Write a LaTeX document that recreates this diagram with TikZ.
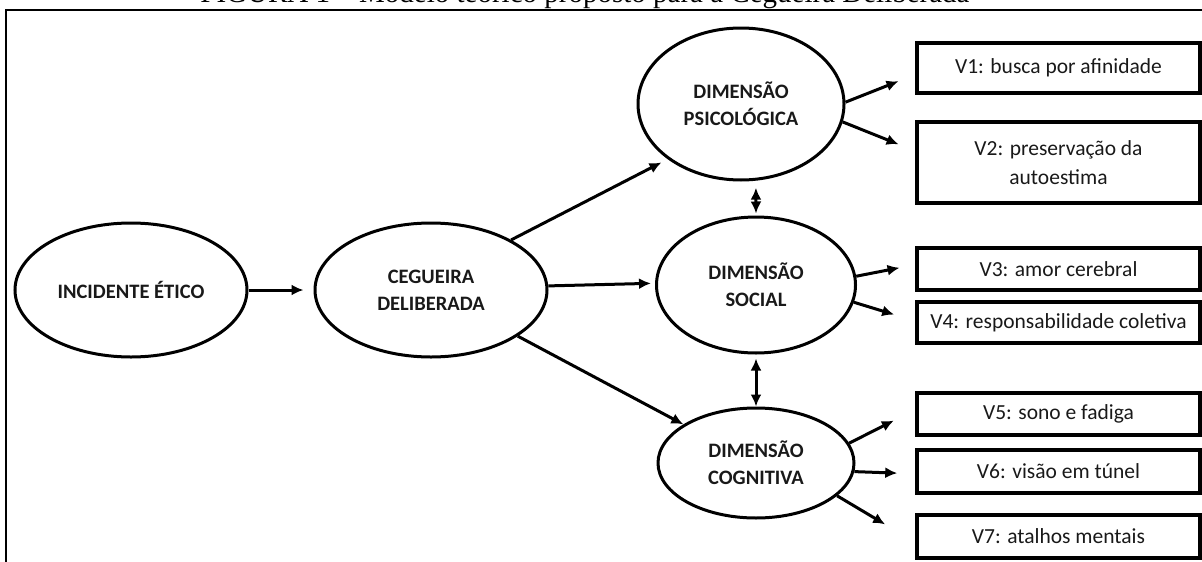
\documentclass[tikz,border=0pt]{standalone}
\usepackage{fontspec}
\setmainfont{Carlito}
\newfontfamily\titlefont{Liberation Serif}
\usetikzlibrary{arrows.meta,shapes.geometric,calc}
\begin{document}
\begin{tikzpicture}[x=1pt,y=-1pt,
  ell/.style={ellipse,draw,line width=3pt,inner sep=0pt,font=\fontsize{20.5}{27}\selectfont\bfseries,text=black!90,align=center},
  vbox/.style={rectangle,draw,line width=3.5pt,inner sep=0pt,minimum width=283pt,font=\fontsize{21.5}{29}\selectfont,text=black!90,align=center},
  arr/.style={-{Latex[length=12pt,width=11pt]},line width=3pt},
  darr/.style={{Latex[length=12pt,width=11pt]}-{Latex[length=12pt,width=11pt]},line width=3pt}
]
\useasboundingbox (0,0) rectangle (1202,562);
\begin{scope}
\clip (0,0) rectangle (1202,562);
\node[anchor=base,font=\titlefont\fontsize{29}{34}\selectfont,inner sep=0pt] (title) at (585,2.5) {FIGURA 1 – Modelo teórico proposto para a Cegueira Deliberada};
\end{scope}
\draw[line width=2.5pt] (6,562) -- (6,10) -- (1202,10);

\node[ell,minimum width=232pt,minimum height=134pt] (inc) at (131,290) {INCIDENTE ÉTICO};
\node[ell,minimum width=232pt,minimum height=134pt] (ceg) at (431,290) {CEGUEIRA\\DELIBERADA};
\node[ell,minimum width=206pt,minimum height=152pt] (psi) at (741,104) {DIMENSÃO\\PSICOLÓGICA};
\node[ell,minimum width=199pt,minimum height=136pt] (soc) at (756,285) {DIMENSÃO\\SOCIAL};
\node[ell,minimum width=196pt,minimum height=110pt] (cog) at (756,463) {DIMENSÃO\\COGNITIVA};

\node[vbox,minimum height=50pt] (v1) at (1058.5,68) {V1: busca por afinidade};
\node[vbox,minimum height=81pt] (v2) at (1058.5,162.5) {V2: preservação da\\autoestima};
\node[vbox,minimum height=42pt] (v3) at (1058.5,269) {V3: amor cerebral};
\node[vbox,minimum height=41pt] (v4) at (1058.5,322.5) {V4: responsabilidade coletiva};
\node[vbox,minimum height=42pt] (v5) at (1058.5,414) {V5: sono e fadiga};
\node[vbox,minimum height=43pt] (v6) at (1058.5,471.5) {V6: visão em túnel};
\node[vbox,minimum height=43pt] (v7) at (1058.5,536.5) {V7: atalhos mentais};

\draw[arr,shorten >=10pt] (inc.east) -- (ceg.west);
\draw[arr,shorten >=7pt] (ceg.32) -- (psi.217);
\draw[arr,shorten >=4pt] (ceg.2) -- (soc.179);
\draw[arr] (ceg.-28) -- (cog.152);
\draw[arr,shorten >=18pt] (psi.1) -- ($(v1.west)+(0,6.6)$);
\draw[arr,shorten >=18pt] (psi.-10) -- ($(v2.west)+(0,-11.5)$);
\draw[arr,shorten >=16pt] (soc.5) -- ($(v3.west)+(0,-4.3)$);
\draw[arr,shorten >=22pt] (soc.-10) -- ($(v4.west)+(0,-1.5)$);
\draw[arr,shorten >=24pt] (cog.12) -- ($(v5.west)+(0,-4.3)$);
\draw[arr,shorten >=18pt] (cog.-5) -- ($(v6.west)+(0,2.3)$);
\draw[arr,shorten >=35pt] (cog.-22) -- ($(v7.west)+(0,5.8)$);
\draw[darr,shorten <=7pt,shorten >=2pt] (psi.-79) -- (soc.north);
\draw[darr,shorten <=4pt] (soc.south) -- (cog.north);
\end{tikzpicture}
\end{document}
